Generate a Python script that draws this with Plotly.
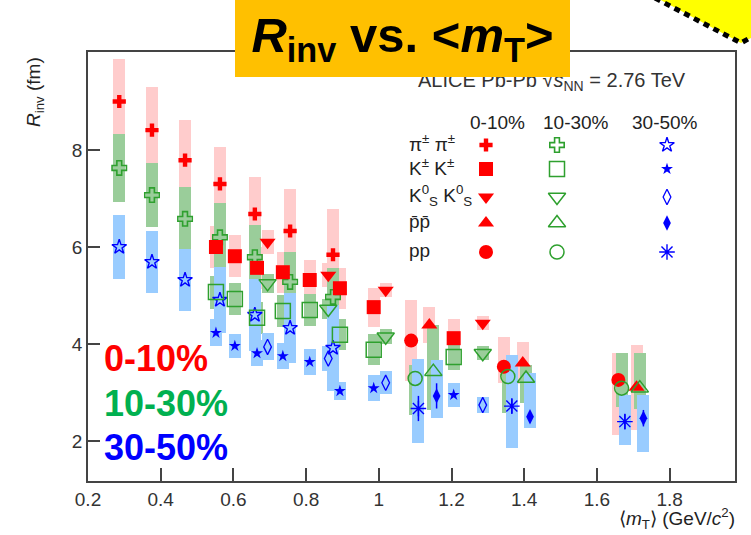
import plotly.graph_objects as go

# ---------------- data ----------------
# charged pions
pi_mt = [0.286, 0.376, 0.467, 0.563, 0.659, 0.756, 0.874]
pi_0010 = [9.00, 8.41, 7.79, 7.30, 6.68, 6.33, 5.84]
pi_0010_sys = [0.88, 0.89, 0.83, 0.76, 0.76, 0.87, 0.94]
pi_1030 = [7.63, 7.07, 6.58, 6.20, 5.79, 5.28, 4.97]
pi_1030_sys = [0.70, 0.66, 0.65, 0.70, 0.66, 0.62, 0.60]
pi_3050 = [6.00, 5.69, 5.32, 4.91, 4.60, 4.33, 3.92]
pi_3050_sys = [0.65, 0.63, 0.64, 0.68, 0.75, 0.72, 0.88]

# charged kaons
k_mt = [0.552, 0.604, 0.665, 0.736, 0.810, 0.893, 0.986, 1.206]
k_0010 = [6.00, 5.81, 5.57, 5.48, 5.32, 5.15, 4.76, 4.12]
k_0010_sys = [0.43, 0.43, 0.43, 0.42, 0.41, 0.42, 0.40, 0.40]
k_1030 = [5.07, 4.93, 4.54, 4.68, 4.70, 4.19, 3.88, 3.73]
k_1030_sys = [0.34, 0.33, 0.33, 0.33, 0.33, 0.32, 0.32, 0.26]
k_3050 = [4.23, 3.96, 3.81, 3.75, 3.63, 3.03, 3.09, 2.95]
k_3050_sys = [0.28, 0.25, 0.27, 0.27, 0.27, 0.19, 0.27, 0.25]

# neutral kaons
k0_mt = [0.694, 0.861, 1.019, 1.286]
k0_0010 = [6.10, 5.42, 5.11, 4.43]
k0_0010_sys = [0.25, 0.25, 0.15, 0.15]
k0_1030 = [5.25, 4.72, 4.15, 3.81]
k0_1030_sys = [0.20, 0.20, 0.15, 0.15]
k0_3050 = [3.94, 3.70, 3.20, 2.74]
k0_3050_sys = [0.28, 0.25, 0.24, 0.16]

# anti-protons (triangles / diamonds)
pb_mt_0010 = [1.139, 1.396, 1.709]
pb_0010 = [4.39, 3.61, 3.11]
pb_0010_lo = [4.02, 3.17, 2.23]
pb_0010_hi = [4.76, 4.05, 3.98]
pb_mt_1030 = [1.150, 1.405, 1.718]
pb_1030 = [3.43, 3.29, 3.09]
pb_1030_lo = [2.64, 2.78, 2.67]
pb_1030_hi = [4.39, 3.57, 3.81]
pb_mt_3050 = [1.159, 1.416, 1.728]
pb_3050 = [2.93, 2.50, 2.47]
pb_3050_lo = [2.47, 2.26, 1.78]
pb_3050_hi = [3.67, 3.40, 2.95]
pb_3050_stat = [0.26, 0.12, 0.17]

# protons (circles / asterisks)
p_mt_0010 = [1.089, 1.344, 1.659]
p_0010 = [4.07, 3.53, 3.26]
p_0010_lo = [3.23, 3.19, 2.12]
p_0010_hi = [4.91, 4.15, 3.81]
p_mt_1030 = [1.100, 1.355, 1.668]
p_1030 = [3.29, 3.33, 3.09]
p_1030_lo = [2.54, 2.58, 2.71]
p_1030_hi = [3.57, 3.46, 3.81]
p_mt_3050 = [1.109, 1.366, 1.677]
p_3050 = [2.67, 2.72, 2.40]
p_3050_lo = [1.95, 1.86, 1.92]
p_3050_hi = [3.70, 3.77, 2.95]
p_3050_stat = [0.26, 0.15, 0.15]

x_ticks = [0.2, 0.4, 0.6, 0.8, 1.0, 1.2, 1.4, 1.6, 1.8]
x_ticktext = ["0.2", "0.4", "0.6", "0.8", "1", "1.2", "1.4", "1.6", "1.8"]
y_ticks = [2, 4, 6, 8]

cent_labels = ["0-10%", "10-30%", "30-50%"]
row_labels = ["π<sup>±</sup> π<sup>±</sup>", "K<sup>±</sup> K<sup>±</sup>",
              "K<sup>0</sup><sub>S</sub> K<sup>0</sup><sub>S</sub>",
              "p\u0304p\u0304", "pp"]

# ---------------- styles ----------------
RED = "#FF0000"
GREEN = "#2EA02E"
BLUE = "#0000FF"
BAND_COL = {"0010": "#FFCCCC", "1030": "#9ACD9A", "3050": "#99CCFF"}
FONT = "Liberation Sans, Arial, Helvetica, sans-serif"

STY = {
    ("pi", "0010"): dict(symbol="cross", size=11, color=RED, lw=0),
    ("pi", "1030"): dict(symbol="cross-open", size=12, color=GREEN, lw=1.6),
    ("pi", "3050"): dict(symbol="star-open", size=11, color=BLUE, lw=1.4),
    ("k", "0010"): dict(symbol="square", size=14, color=RED, lw=0),
    ("k", "1030"): dict(symbol="square-open", size=15, color=GREEN, lw=1.5),
    ("k", "3050"): dict(symbol="star", size=9, color=BLUE, lw=0),
    ("k0", "0010"): dict(symbol="triangle-down", size=14, color=RED, lw=0),
    ("k0", "1030"): dict(symbol="triangle-down-open", size=15, color=GREEN, lw=1.5),
    ("k0", "3050"): dict(symbol="diamond-tall-open", size=11, color=BLUE, lw=1.3),
    ("pb", "0010"): dict(symbol="triangle-up", size=14, color=RED, lw=0),
    ("pb", "1030"): dict(symbol="triangle-up-open", size=15, color=GREEN, lw=1.5),
    ("pb", "3050"): dict(symbol="diamond-tall", size=11, color=BLUE, lw=0),
    ("p", "0010"): dict(symbol="circle", size=14, color=RED, lw=0),
    ("p", "1030"): dict(symbol="circle-open", size=14, color=GREEN, lw=1.5),
    ("p", "3050"): dict(symbol="asterisk-open", size=13, color=BLUE, lw=1.4),
}


def sym_band(y, s):
    return [a - b for a, b in zip(y, s)], [a + b for a, b in zip(y, s)]


SERIES = []
for cent, y, s in [("0010", pi_0010, pi_0010_sys), ("1030", pi_1030, pi_1030_sys), ("3050", pi_3050, pi_3050_sys)]:
    lo, hi = sym_band(y, s)
    SERIES.append(dict(key=("pi", cent), x=pi_mt, y=y, lo=lo, hi=hi, stat=None))
for cent, y, s in [("0010", k_0010, k_0010_sys), ("1030", k_1030, k_1030_sys), ("3050", k_3050, k_3050_sys)]:
    lo, hi = sym_band(y, s)
    SERIES.append(dict(key=("k", cent), x=k_mt, y=y, lo=lo, hi=hi, stat=None))
for cent, y, s in [("0010", k0_0010, k0_0010_sys), ("1030", k0_1030, k0_1030_sys), ("3050", k0_3050, k0_3050_sys)]:
    lo, hi = sym_band(y, s)
    SERIES.append(dict(key=("k0", cent), x=k0_mt, y=y, lo=lo, hi=hi, stat=None))
SERIES += [
    dict(key=("pb", "0010"), x=pb_mt_0010, y=pb_0010, lo=pb_0010_lo, hi=pb_0010_hi, stat=None),
    dict(key=("pb", "1030"), x=pb_mt_1030, y=pb_1030, lo=pb_1030_lo, hi=pb_1030_hi, stat=None),
    dict(key=("pb", "3050"), x=pb_mt_3050, y=pb_3050, lo=pb_3050_lo, hi=pb_3050_hi, stat=pb_3050_stat),
    dict(key=("p", "0010"), x=p_mt_0010, y=p_0010, lo=p_0010_lo, hi=p_0010_hi, stat=None),
    dict(key=("p", "1030"), x=p_mt_1030, y=p_1030, lo=p_1030_lo, hi=p_1030_hi, stat=None),
    dict(key=("p", "3050"), x=p_mt_3050, y=p_3050, lo=p_3050_lo, hi=p_3050_hi, stat=p_3050_stat),
]

fig = go.Figure()

# systematic bands: red first, then green, then blue
for cent in ["0010", "1030", "3050"]:
    for s in SERIES:
        if s["key"][1] != cent:
            continue
        fig.add_trace(go.Bar(
            x=s["x"], y=[h - l for h, l in zip(s["hi"], s["lo"])], base=s["lo"],
            width=0.033, marker=dict(color=BAND_COL[cent], line=dict(width=0)),
            showlegend=False, hoverinfo="skip"))


def marker_dict(st):
    return dict(symbol=st["symbol"], size=st["size"], color=st["color"],
                line=dict(color=st["color"], width=st["lw"]))


for s in SERIES:
    st = STY[s["key"]]
    err = None
    if s["stat"] is not None:
        err = dict(type="data", array=s["stat"], color=st["color"], thickness=1.5, width=0)
    fig.add_trace(go.Scatter(x=s["x"], y=s["y"], mode="markers", marker=marker_dict(st),
                             error_y=err, showlegend=False, hoverinfo="skip"))

# ---------------- pixel -> paper helpers ----------------
L, R, T, B = 88, 735, 52, 481
W, H = R - L, B - T


def px(xp):
    return (xp - L) / W


def py(yp):
    return (B - yp) / H


# legend table markers (overlay axis in paper units)
leg_cols_x = [486, 557, 667]
leg_rows_y = [145, 169, 197, 223, 252]
species = ["pi", "k", "k0", "pb", "p"]
cents = ["0010", "1030", "3050"]
for i, sp in enumerate(species):
    for j, c in enumerate(cents):
        st = STY[(sp, c)]
        fig.add_trace(go.Scatter(x=[px(leg_cols_x[j])], y=[py(leg_rows_y[i])], mode="markers",
                                 marker=marker_dict(st), xaxis="x2", yaxis="y2",
                                 showlegend=False, hoverinfo="skip"))

ann = []
# legend headers
for j, lab in enumerate(cent_labels):
    ann.append(dict(x=px([497, 576, 665][j]), y=py(123), xref="paper", yref="paper",
                    text=lab, showarrow=False, xanchor="center", yanchor="middle",
                    font=dict(family=FONT, size=19, color="#222")))
for i, lab in enumerate(row_labels):
    ann.append(dict(x=px(407), y=py(leg_rows_y[i] - 2), xref="paper", yref="paper",
                    text=lab, showarrow=False, xanchor="left", yanchor="middle",
                    font=dict(family=FONT, size=19, color="#222")))

# ALICE label (partly hidden by the title box)
ann.append(dict(x=px(688), y=py(82), xref="paper", yref="paper",
                text="ALICE Pb-Pb √<i>s</i><sub>NN</sub> = 2.76 TeV", showarrow=False,
                xanchor="right", yanchor="middle",
                font=dict(family=FONT, size=20, color="#333")))

# big centrality labels
for lab, col, yy in [("0-10%", RED, 358), ("10-30%", "#00B050", 403), ("30-50%", BLUE, 447)]:
    ann.append(dict(x=px(102), y=py(yy), xref="paper", yref="paper", text="<b>%s</b>" % lab,
                    showarrow=False, xanchor="left", yanchor="middle",
                    font=dict(family=FONT, size=36, color=col)))

# axis titles
ann.append(dict(x=px(35), y=py(92), xref="paper", yref="paper",
                text="<i>R</i><sub>inv</sub> (fm)", textangle=-90, showarrow=False,
                xanchor="center", yanchor="middle", font=dict(family=FONT, size=19, color="#222")))
ann.append(dict(x=px(737), y=py(518), xref="paper", yref="paper",
                text="⟨<i>m</i><sub>T</sub>⟩ (GeV/<i>c</i><sup>2</sup>)", showarrow=False,
                xanchor="right", yanchor="middle", font=dict(family=FONT, size=19, color="#222")))

# title box (drawn last -> on top)
ann.append(dict(x=px(402.5), y=py(38.5), xref="paper", yref="paper",
                text="<b><i>R</i><sub>inv</sub> vs. &lt;<i>m</i><sub>T</sub>&gt;</b>",
                showarrow=False, xanchor="center", yanchor="middle",
                width=335, height=77, bgcolor="#FFC000", borderpad=0, borderwidth=0,
                font=dict(family=FONT, size=49, color="black")))

shapes = [
    dict(type="path", xref="paper", yref="paper",
         path="M %f,%f L %f,%f L %f,%f L %f,%f Z" % (px(657), py(-2), px(755), py(-2), px(755), py(36), px(741), py(43)),
         fillcolor="#FFFF00", line=dict(width=0), layer="above"),
    dict(type="path", xref="paper", yref="paper",
         path="M %f,%f L %f,%f L %f,%f" % (px(655), py(-2), px(741), py(43), px(755), py(35)),
         line=dict(color="black", width=5, dash="6px,5px"), layer="above"),
]

axis_common = dict(showgrid=False, zeroline=False, showline=True, linecolor="#444",
                   linewidth=1.5, mirror=True, ticks="inside", tickcolor="#444", tickwidth=1.5,
                   tickfont=dict(family=FONT, size=19, color="#333"))

fig.update_layout(
    width=751, height=535,
    margin=dict(l=L, r=751 - R, t=T, b=535 - B, pad=0),
    paper_bgcolor="white", plot_bgcolor="white",
    barmode="overlay", bargap=0,
    showlegend=False,
    xaxis=dict(range=[0.2, 0.2 + W / 363.5], tickvals=x_ticks, ticktext=x_ticktext,
               ticklen=13, **axis_common),
    yaxis=dict(range=[2 - (B - 441) / 48.5, 2 + (441 - T) / 48.5], tickvals=y_ticks,
               ticklen=12, **axis_common),
    xaxis2=dict(overlaying="x", range=[0, 1], visible=False, fixedrange=True),
    yaxis2=dict(overlaying="y", range=[0, 1], visible=False, fixedrange=True),
    annotations=ann, shapes=shapes,
)

fig.write_html("out.html", config={"displayModeBar": False},
               post_script="document.body.style.margin='0';document.body.style.overflow='hidden';")
